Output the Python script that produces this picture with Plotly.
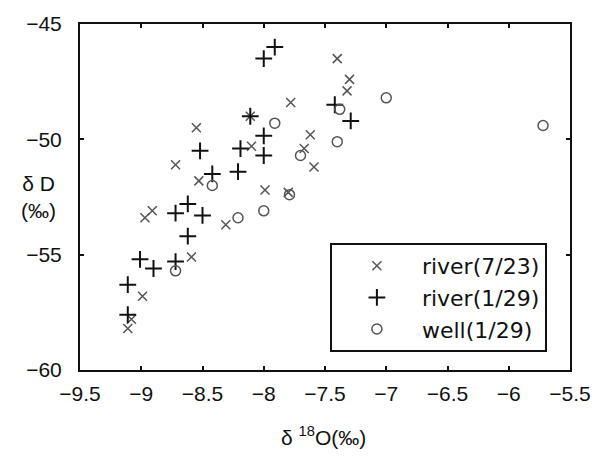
import plotly.graph_objects as go

# river (7/23)
r723_x = [-9.11, -9.08, -8.99, -8.97, -8.91, -8.72, -8.59, -8.55, -8.53, -8.31,
          -8.10, -8.11, -7.99, -7.78, -7.80, -7.62, -7.59, -7.67, -7.40, -7.30, -7.32]
r723_y = [-58.2, -57.8, -56.8, -53.4, -53.1, -51.1, -55.1, -49.5, -51.8, -53.7,
          -50.3, -49.0, -52.2, -48.4, -52.3, -49.8, -51.2, -50.4, -46.5, -47.4, -47.9]
# river (1/29)
r129_x = [-9.11, -9.11, -9.01, -8.90, -8.72, -8.72, -8.62, -8.62, -8.50, -8.52,
          -8.42, -8.21, -8.19, -8.11, -8.00, -8.00, -8.00, -7.91, -7.29, -7.42]
r129_y = [-57.6, -56.3, -55.2, -55.6, -55.3, -53.2, -52.8, -54.2, -53.3, -50.5,
          -51.5, -51.4, -50.4, -49.0, -49.85, -50.7, -46.5, -46.0, -49.2, -48.5]
# well (1/29)
well_x = [-8.72, -8.42, -8.21, -8.00, -7.79, -7.91, -7.70, -7.40, -7.38, -7.00, -5.72]
well_y = [-55.7, -52.0, -53.4, -53.1, -52.4, -49.3, -50.7, -50.1, -48.7, -48.2, -49.4]

x_ticks = [-9.5, -9, -8.5, -8, -7.5, -7, -6.5, -6, -5.5]
x_tick_text = ["−9.5", "−9", "−8.5", "−8", "−7.5", "−7", "−6.5", "−6", "−5.5"]
y_ticks = [-60, -55, -50, -45]
y_tick_text = ["−60", "−55", "−50", "−45"]

fig = go.Figure()
fig.add_trace(go.Scatter(x=r723_x, y=r723_y, mode="markers", name="river(7/23)",
                         marker=dict(symbol="x-thin-open", size=9, color="#555",
                                     line=dict(width=1.5, color="#555"))))
fig.add_trace(go.Scatter(x=r129_x, y=r129_y, mode="markers", name="river(1/29)",
                         marker=dict(symbol="cross-thin-open", size=12, color="#111",
                                     line=dict(width=2, color="#111"))))
fig.add_trace(go.Scatter(x=well_x, y=well_y, mode="markers", name="well(1/29)",
                         marker=dict(symbol="circle-open", size=10, color="#555",
                                     line=dict(width=1.5, color="#555"))))

fam = "Liberation Sans, Arial, sans-serif"
font = dict(family=fam, size=21, color="#111")
fig.update_layout(
    width=603, height=456,
    margin=dict(l=80, r=28, t=20, b=86),
    paper_bgcolor="white", plot_bgcolor="white",
    font=font,
    showlegend=True,
    legend=dict(x=0.51, y=0.367, xanchor="left", yanchor="top",
                bordercolor="#111", borderwidth=2, bgcolor="white",
                font=dict(family="DejaVu Sans, sans-serif", size=22, color="#111"),
                itemwidth=80, tracegroupgap=0),
)
fig.update_xaxes(range=[-9.5, -5.5], tickvals=x_ticks, ticktext=x_tick_text,
                 showgrid=False, zeroline=False, showline=True, linecolor="#111",
                 linewidth=2, mirror="ticks", ticks="inside", ticklen=4,
                 tickcolor="#111", tickwidth=1.5, ticklabelstandoff=4)
fig.update_yaxes(range=[-60, -45], tickvals=y_ticks, ticktext=y_tick_text,
                 showgrid=False, zeroline=False, showline=True, linecolor="#111",
                 linewidth=2, mirror="ticks", ticks="inside", ticklen=4,
                 tickcolor="#111", tickwidth=1.5, ticklabelstandoff=12)

fig.add_annotation(text="δ D<br>(‰)", xref="paper", yref="paper", x=-0.085, y=0.50,
                   xanchor="center", yanchor="middle",
                   showarrow=False, font=font, align="center")
fig.add_annotation(text="δ <sup>18</sup>O(‰)", xref="paper", yref="paper",
                   x=0.497, y=-0.19, xanchor="center", yanchor="middle",
                   showarrow=False, font=font)

fig.write_html("out.html")
